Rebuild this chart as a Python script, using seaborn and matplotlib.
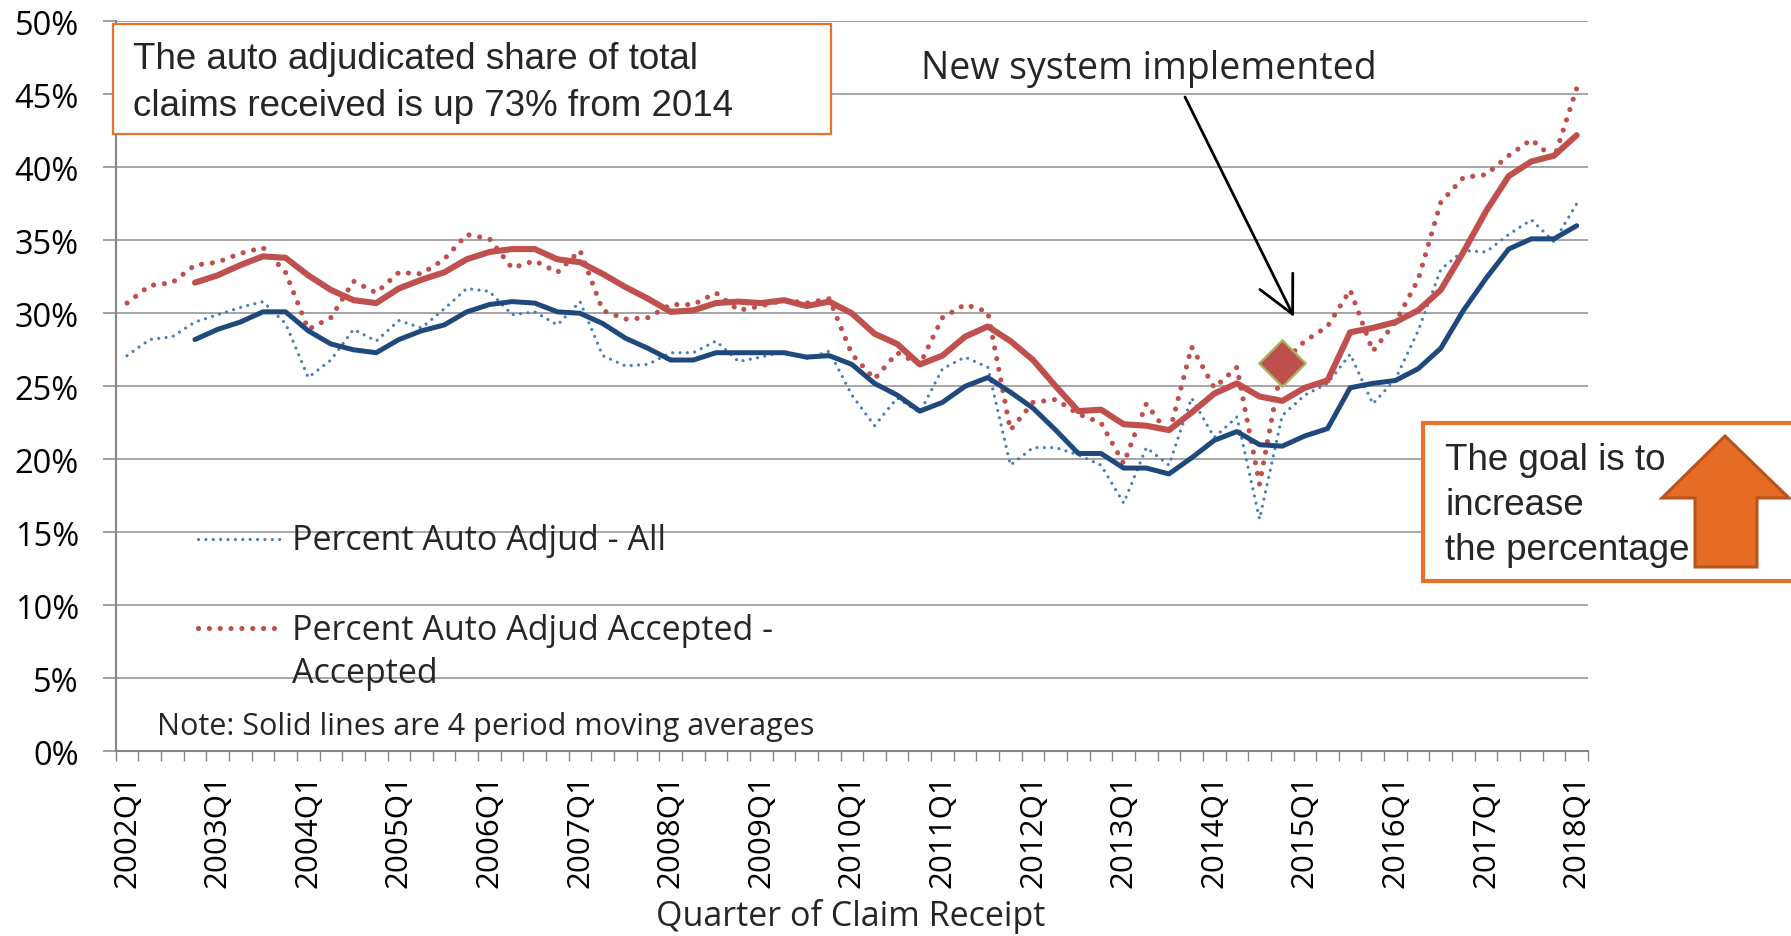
import numpy as np
import pandas as pd
import matplotlib
matplotlib.use("Agg")
import matplotlib.pyplot as plt
import seaborn as sns
from matplotlib.lines import Line2D
from matplotlib.patches import Rectangle, Polygon, FancyArrowPatch
from matplotlib.ticker import FuncFormatter

# ---------------- data (percent) ----------------
quarters = [f"{y}Q{q}" for y in range(2002, 2019) for q in range(1, 5)][:65]
tick_labels = [f"{y}Q1" for y in range(2002, 2019)]

pct_all = [27.1, 28.2, 28.4, 29.4, 29.9, 30.4, 30.8, 29.3, 25.6, 26.8,
           28.9, 28.1, 29.5, 29.0, 30.3, 31.7, 31.5, 29.9, 30.1, 29.2,
           30.8, 27.1, 26.4, 26.5, 27.3, 27.3, 28.1, 26.7, 27.0, 27.4,
           26.9, 27.4, 24.4, 22.3, 24.2, 23.2, 26.2, 27.0, 26.3, 19.6,
           20.8, 20.8, 20.3, 19.6, 17.0, 20.8, 19.6, 24.2, 21.5, 22.9,
           15.9, 23.0, 24.4, 25.2, 27.2, 23.8, 25.5, 28.8, 33.0, 34.3,
           34.2, 35.4, 36.4, 34.9, 37.5]

pct_accepted = [30.7, 31.9, 32.1, 33.3, 33.5, 34.1, 34.5, 32.8, 28.9, 29.7,
                32.2, 31.4, 32.8, 32.7, 33.7, 35.4, 35.1, 33.1, 33.6, 32.8,
                34.3, 30.2, 29.6, 29.7, 30.6, 30.6, 31.4, 30.2, 30.5, 30.9,
                30.7, 31.0, 27.2, 25.5, 27.3, 26.5, 29.7, 30.6, 30.1, 22.0,
                23.9, 24.1, 23.1, 22.5, 19.7, 23.8, 21.7, 27.7, 24.9, 26.3,
                18.3, 26.6, 28.1, 29.1, 31.6, 27.4, 29.4, 32.3, 37.6, 39.3,
                39.5, 40.8, 41.9, 40.6, 45.4]

ma_all = [np.nan, np.nan, np.nan,
          28.2, 28.9, 29.4, 30.1, 30.1, 28.8, 27.9, 27.5, 27.3, 28.2, 28.8,
          29.2, 30.1, 30.6, 30.8, 30.7, 30.1, 30.0, 29.3, 28.3, 27.6, 26.8,
          26.8, 27.3, 27.3, 27.3, 27.3, 27.0, 27.1, 26.5, 25.2, 24.4, 23.3,
          23.9, 25.0, 25.6, 24.6, 23.5, 22.0, 20.4, 20.4, 19.4, 19.4, 19.0,
          20.1, 21.3, 21.9, 21.0, 20.9, 21.6, 22.1, 24.9, 25.2, 25.4, 26.2,
          27.6, 30.2, 32.4, 34.4, 35.1, 35.1, 36.0]

ma_accepted = [np.nan, np.nan, np.nan,
               32.1, 32.6, 33.3, 33.9, 33.8, 32.6, 31.6, 30.9, 30.7, 31.7, 32.3,
               32.8, 33.7, 34.2, 34.4, 34.4, 33.7, 33.5, 32.7, 31.8, 31.0, 30.1,
               30.2, 30.7, 30.8, 30.7, 30.9, 30.5, 30.8, 30.0, 28.6, 27.9, 26.5,
               27.1, 28.4, 29.1, 28.1, 26.8, 25.0, 23.3, 23.4, 22.4, 22.3, 22.0,
               23.2, 24.5, 25.2, 24.3, 24.0, 24.9, 25.4, 28.7, 29.0, 29.4, 30.2,
               31.6, 34.2, 37.0, 39.4, 40.4, 40.8, 42.2]

highlight_quarter = "2014Q4"
highlight_value = 26.6

y_ticks = [0, 5, 10, 15, 20, 25, 30, 35, 40, 45, 50]

# ---------------- styling ----------------
sns.set_theme(style="white")
plt.rcParams["font.family"] = ["Open Sans", "DejaVu Sans"]

W, H = 1791, 937
fig = plt.figure(figsize=(W / 100, H / 100), dpi=100)
fig.patch.set_facecolor("white")
ax = fig.add_axes([115.7 / W, 1 - 752.3 / H, (1588 - 115.7) / W, (752.3 - 22.3) / H])
ax.set_facecolor("white")

df = pd.DataFrame({
    "quarter": quarters,
    "idx": np.arange(len(quarters)),
    "all": pct_all,
    "accepted": pct_accepted,
    "ma_all": ma_all,
    "ma_accepted": ma_accepted,
})

BLUE_DOT = "#4A7EBB"
RED = "#C0504D"
BLUE_SOLID = "#1F497D"
GRID = "#A6A6A6"
ORANGE = "#E8722A"

for v in y_ticks[1:]:
    ax.axhline(v, color=GRID, lw=1.4, zorder=0)

sns.lineplot(data=df, x="idx", y="all", ax=ax, color=BLUE_DOT, linewidth=2.3,
             linestyle=(0, (0.01, 2.3)), dash_capstyle="round", errorbar=None, zorder=2)
sns.lineplot(data=df, x="idx", y="accepted", ax=ax, color=RED, linewidth=3.7,
             linestyle=(0, (0.01, 2.1)), dash_capstyle="round", errorbar=None, zorder=2)
sns.lineplot(data=df.dropna(), x="idx", y="ma_all", ax=ax, color=BLUE_SOLID, linewidth=3.6,
             errorbar=None, zorder=3, solid_joinstyle="round")
sns.lineplot(data=df.dropna(), x="idx", y="ma_accepted", ax=ax, color=RED, linewidth=4.4,
             errorbar=None, zorder=3, solid_joinstyle="round")

hi = quarters.index(highlight_quarter)
sns.scatterplot(x=[hi], y=[highlight_value], ax=ax, marker="D", s=560,
                color=RED, edgecolor="#9BBB59", linewidth=1.6, zorder=5)

ax.set_xlim(-0.5, len(quarters) - 0.5)
ax.set_ylim(0, 50)

for s in ["top", "right"]:
    ax.spines[s].set_visible(False)
for s in ["left", "bottom"]:
    ax.spines[s].set_color("#868686")
    ax.spines[s].set_linewidth(1.5)

ax.set_yticks(y_ticks)
ax.yaxis.set_major_formatter(FuncFormatter(lambda v, p: f"{v:.0f}%"))
ax.tick_params(axis="y", which="major", length=9.5, width=1.1, color="#868686",
               direction="out", pad=17, labelsize=23.5, labelcolor="black", left=True)

major_pos = [quarters.index(t) for t in tick_labels]
ax.set_xticks(major_pos)
ax.set_xticklabels(tick_labels, rotation=90)
ax.set_xticks(np.arange(-0.5, len(quarters), 1), minor=True)
ax.tick_params(axis="x", which="major", length=0, pad=16, labelsize=22.5, labelcolor="black", bottom=True)
ax.tick_params(axis="x", which="minor", length=7.5, width=1.0, color="#868686", direction="out", bottom=True)
ax.set_xlabel("")
ax.set_ylabel("")
ax.grid(False)


def fx(x):
    return x / W


def fy(y):
    return 1 - y / H


# x-axis title
fig.text(fx(851), fy(917), "Quarter of Claim Receipt", ha="center", va="center",
         fontsize=24.5, family=["Liberation Sans Narrow", "Open Sans"])

# legend (manual)
fig.add_artist(Line2D([fx(198), fx(283)], [fy(540), fy(540)], color=BLUE_DOT, lw=2.3,
                      linestyle=(0, (0.01, 2.3)), dash_capstyle="round"))
fig.add_artist(Line2D([fx(198), fx(278)], [fy(629), fy(629)], color=RED, lw=3.7,
                      linestyle=(0, (0.01, 2.1)), dash_capstyle="round"))
LEG_FS = 24.5
fig.text(fx(292), fy(550), "Percent Auto Adjud - All", fontsize=LEG_FS, va="baseline", ha="left")
fig.text(fx(292), fy(640), "Percent Auto Adjud Accepted -", fontsize=LEG_FS, va="baseline", ha="left")
fig.text(fx(292), fy(683), "Accepted", fontsize=LEG_FS, va="baseline", ha="left")
fig.text(fx(157), fy(735), "Note: Solid lines are 4 period moving averages", fontsize=22,
         va="baseline", ha="left")

# top-left annotation box
fig.add_artist(Rectangle((fx(113), fy(135)), fx(831) - fx(113), fy(25) - fy(135),
                         transform=fig.transFigure, facecolor="white", edgecolor=ORANGE, lw=1.6, zorder=4))
for txt, yb in [("The auto adjudicated share of total", 69), ("claims received is up 73% from 2014", 116)]:
    fig.text(fx(133), fy(yb), txt, fontsize=26.5, family=["Liberation Sans", "DejaVu Sans"],
             va="baseline", ha="left", zorder=5)

# New system annotation
fig.text(fx(1149), fy(79), "New system implemented", fontsize=27, ha="center", va="baseline")
arrow = FancyArrowPatch(
    (fx(1185), fy(98)), (fx(1294), fy(318)), transform=fig.transFigure,
    arrowstyle="->,head_length=1.2,head_width=0.6", lw=2.0, color="black",
    mutation_scale=22, shrinkA=0, shrinkB=0)
fig.add_artist(arrow)

# goal box
fig.add_artist(Rectangle((fx(1423), fy(582)), fx(1800) - fx(1423), fy(424) - fy(582),
                         transform=fig.transFigure, facecolor="white", edgecolor=ORANGE, lw=3.0, zorder=4))
up = [(1725, 437), (1789, 499), (1757, 499), (1757, 568), (1695, 568), (1695, 499), (1662, 499)]
fig.add_artist(Polygon([(fx(x), fy(y)) for x, y in up], closed=True, transform=fig.transFigure,
                       facecolor="#E66C23", edgecolor="#B5541E", lw=2.2, zorder=5))
for txt, yb in [("The goal is to", 470), ("increase", 515), ("the percentage", 560)]:
    fig.text(fx(1445), fy(yb), txt, fontsize=26.5, family=["Liberation Sans", "DejaVu Sans"],
             va="baseline", ha="left", zorder=6)

fig.savefig("out.png", dpi=100, facecolor="white")
